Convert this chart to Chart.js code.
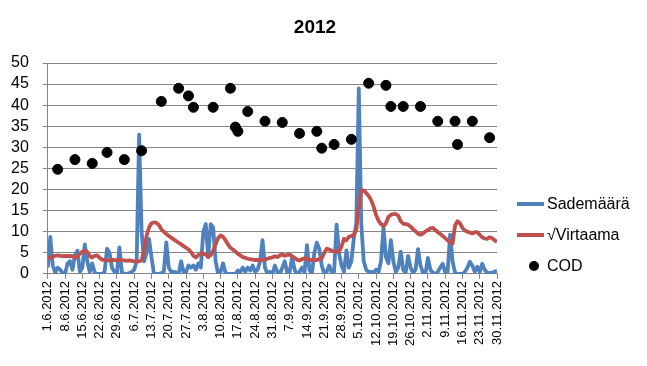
<!DOCTYPE html>
<html>
<head>
<meta charset="utf-8">
<script src="https://cdn.jsdelivr.net/npm/chart.js@4"></script>
<style>
  body { margin: 0; background: #fff; }
  #wrap { position: relative; width: 647px; height: 366px; font-family: "Liberation Sans", Arial, sans-serif; }
  #title { position: absolute; left: 0; width: 630px; top: 16px; text-align: center; font-weight: bold; font-size: 19px; }
  .leg { position: absolute; left: 517px; font-size: 16px; height: 20px; line-height: 20px; }
  .leg .ln { position: absolute; left: 0; top: 8px; width: 27px; height: 4px; }
  .leg .dot { position: absolute; left: 12px; top: 5px; width: 10px; height: 10px; border-radius: 50%; background: #000; }
  .leg span { position: absolute; left: 30px; white-space: nowrap; }
</style>
</head>
<body>
<div id="wrap">
  <canvas id="chart"></canvas>
  <div id="title">2012</div>
  <div class="leg" style="top:194px"><div class="ln" style="background:#4F81BD"></div><span>Sademäärä</span></div>
  <div class="leg" style="top:225px"><div class="ln" style="background:#C0504D"></div><span>√Virtaama</span></div>
  <div class="leg" style="top:256px"><div class="dot"></div><span>COD</span></div>
</div>
<script>
// weekly tick labels, 1.6.2012 .. 30.11.2012 (one every 7 days)
const weekLabels = ['1.6.2012','8.6.2012','15.6.2012','22.6.2012','29.6.2012','6.7.2012','13.7.2012',
  '20.7.2012','27.7.2012','3.8.2012','10.8.2012','17.8.2012','24.8.2012','31.8.2012','7.9.2012',
  '14.9.2012','21.9.2012','28.9.2012','5.10.2012','12.10.2012','19.10.2012','26.10.2012','2.11.2012',
  '9.11.2012','16.11.2012','23.11.2012','30.11.2012'];

// daily values, day 0 = 1.6.2012
const sademaara = [
  1.5, 8.8, 2, 0.3, 1.5, 1, 0.3, 0, 2.5, 3, 1, 4.5, 5.5, 0.5, 1.5, 7, 3, 0.5, 2.5, 0.3,
  0, 0, 0, 0.5, 6, 5, 1.5, 0.5, 0, 6.3, 0.5, 0, 0, 0.2, 0.5, 1, 3, 33, 10, 3,
  5, 8.3, 4, 0, 0, 0, 0.2, 0.5, 7.5, 1.5, 0.5, 0.5, 0.3, 0, 3, 0.5, 0.5, 2, 1.5, 2,
  1, 2.5, 1.5, 10, 11.8, 4, 11.8, 11, 3, 0, 0.5, 2.5, 0.3, 0, 0, 0, 0, 0.8, 0.5, 1.5,
  0.5, 1.5, 0.8, 2, 0.5, 1, 3, 8, 1.5, 0, 0.5, 0, 2, 0.5, 0, 1.5, 3, 0.3, 0.5, 4,
  1, 0, 0.5, 1.5, 0.3, 6.8, 1, 0, 5, 7.4, 6, 2, 0, 0.5, 2, 0.5, 0.5, 11.7, 5, 2,
  0.5, 5.6, 1.5, 3, 8.5, 12, 44, 12, 3, 1, 0.5, 0.5, 0.3, 1, 0.5, 3, 11, 4, 2.5, 8,
  3, 0.5, 1.5, 5.3, 1, 0.3, 4.3, 1.5, 0.3, 1, 5.9, 2, 0.3, 0, 3.8, 1, 0.3, 0, 0.5, 1.5,
  2.4, 0.5, 0.5, 9.3, 3, 0.3, 0, 0, 0, 0.5, 1.5, 2.9, 2, 0.5, 1.7, 0.5, 2.4, 1, 0.3, 0.2,
  0.3, 0.5, 0.8
];
const virtaama = [
  3.6, 3.9, 4.1, 4.3, 4.4, 4.3, 4.2, 4.3, 4.2, 4.3, 4.2, 3.8, 4.2, 4.8, 5.3, 5.5, 5.2, 4.2, 3.9, 4.3,
  4.4, 3.8, 3.4, 3.3, 3.2, 3.2, 3.3, 3.3, 3.2, 3.4, 3.3, 3.2, 3.1, 3.2, 3.1, 3.0, 3.0, 3.0, 3.2, 5.5,
  9.0, 11.0, 12.0, 12.2, 12.1, 11.6, 10.6, 10.0, 9.5, 9.0, 8.6, 8.2, 7.8, 7.4, 7.0, 6.6, 6.2, 5.8, 5.2, 4.3,
  3.9, 4.5, 4.8, 4.8, 4.6, 4.0, 4.5, 5.5, 7.0, 8.5, 9.1, 8.8, 8.0, 7.0, 6.2, 5.8, 5.3, 4.8, 4.4, 4.0,
  3.8, 3.6, 3.5, 3.4, 3.3, 3.3, 3.3, 3.3, 3.4, 3.6, 3.8, 3.9, 4.2, 4.0, 4.4, 4.6, 4.3, 4.5, 4.6, 4.2,
  3.8, 3.4, 3.2, 3.5, 3.7, 3.6, 3.4, 3.3, 3.3, 3.3, 3.5, 3.7, 5.0, 6.0, 5.8, 5.5, 5.3, 5.3, 5.3, 6.5,
  8.3, 8.0, 8.8, 9.0, 9.3, 10.5, 16.0, 19.8, 19.8, 19.2, 18.5, 17.5, 16.0, 14.0, 12.6, 11.8, 11.4, 12.0, 13.5, 14.0,
  14.2, 14.2, 13.8, 12.5, 11.9, 11.8, 11.7, 11.2, 10.6, 10.1, 9.6, 9.3, 9.6, 10.1, 10.4, 10.8, 10.9, 10.4, 9.9, 9.5,
  9.0, 8.5, 8.0, 7.5, 7.2, 11.5, 12.5, 12.0, 10.9, 10.3, 10.0, 9.8, 9.6, 9.9, 9.9, 9.3, 8.7, 8.4, 8.3, 8.7,
  8.5, 8.0, 7.6
];

// COD samples: day index and value
const codDays = [4, 11, 18, 24, 31, 38, 46, 53, 57, 59, 67, 74, 76, 77, 81, 88, 95, 102, 109, 111,
  116, 123, 130, 137, 139, 144, 151, 158, 165, 166, 172, 179];
const codValues = [24.8, 27.1, 26.2, 28.8, 27.1, 29.2, 40.9, 44.0, 42.2, 39.5, 39.5, 44.0, 34.8, 33.8, 38.5, 36.2, 35.9, 33.3, 33.8, 29.8,
  30.7, 31.9, 45.2, 44.7, 39.7, 39.7, 39.7, 36.2, 36.2, 30.7, 36.2, 32.3];

const gridColor = '#868686';

new Chart(document.getElementById('chart'), {
  type: 'line',
  data: {
    datasets: [
      { label: 'Sademäärä', data: sademaara.map((v, i) => ({ x: i, y: v })), borderColor: '#4F81BD',
        borderWidth: 3.8, borderJoinStyle: 'round', pointRadius: 0, tension: 0, order: 2 },
      { label: '√Virtaama', data: virtaama.map((v, i) => ({ x: i, y: v })), borderColor: '#C0504D',
        borderWidth: 3.8, borderJoinStyle: 'round', pointRadius: 0, tension: 0, order: 1 },
      { label: 'COD', data: codDays.map((d, i) => ({ x: d, y: codValues[i] })), showLine: false,
        pointRadius: 5, pointBackgroundColor: '#000', pointBorderColor: '#000', order: 0 }
    ]
  },
  options: {
    responsive: true, maintainAspectRatio: false, animation: false,
    layout: { padding: { left: -3, right: 150, top: 63, bottom: 18 } },
    plugins: { legend: { display: false }, title: { display: false }, tooltip: { enabled: false } },
    scales: {
      x: {
        type: 'linear', min: 0, max: 182,
        ticks: {
          stepSize: 7, autoSkip: false, maxRotation: 90, minRotation: 90, color: '#000',
          font: { family: 'Liberation Sans', size: 13 }, padding: 2,
          callback: v => weekLabels[v / 7] || ''
        },
        grid: { display: true, drawOnChartArea: false, color: gridColor, tickLength: 5 },
        border: { color: gridColor }
      },
      y: {
        min: 0, max: 50,
        ticks: { stepSize: 5, autoSkip: false, color: '#000', font: { family: 'Liberation Sans', size: 16 }, padding: 14 },
        grid: { color: gridColor, tickLength: 5 },
        border: { color: gridColor }
      }
    }
  }
});
</script>
</body>
</html>
